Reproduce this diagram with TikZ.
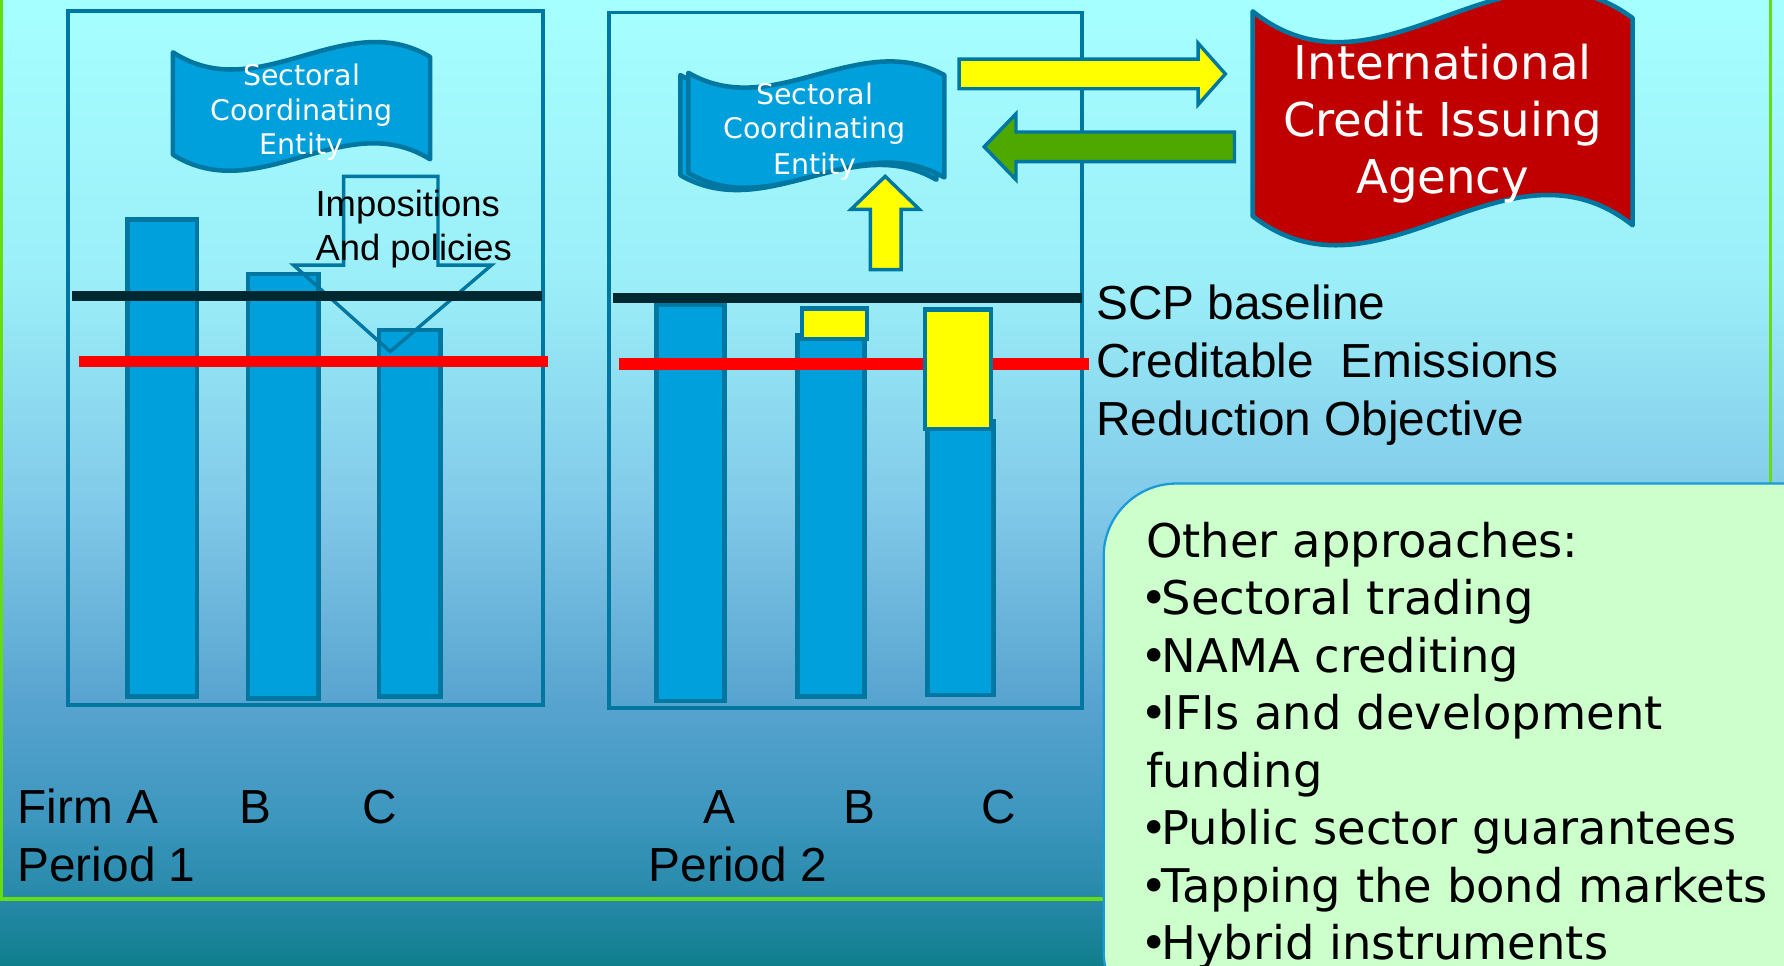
\documentclass[tikz,border=0pt]{standalone}
\usepackage{fontspec}
\newfontfamily\arialf{Liberation Sans}
\newfontfamily\tahf{DejaVu Sans}
\definecolor{edgeblue}{RGB}{0,119,160}
\definecolor{barblue}{RGB}{0,160,220}
\definecolor{flagred}{RGB}{192,0,0}
\definecolor{arrgreen}{RGB}{78,168,0}
\definecolor{arryellow}{RGB}{255,255,0}
\definecolor{framegreen}{RGB}{102,221,17}
\definecolor{boxgreen}{RGB}{204,255,204}
\definecolor{boxedge}{RGB}{26,154,214}
\definecolor{baseblack}{RGB}{0,40,48}
\definecolor{objred}{RGB}{255,0,0}
\definecolor{bga}{RGB}{166,255,255}
\definecolor{bgb}{RGB}{155,238,248}
\definecolor{bgc}{RGB}{128,200,232}
\definecolor{bgd}{RGB}{88,164,208}
\definecolor{bge}{RGB}{60,150,190}
\definecolor{bgf}{RGB}{38,137,168}
\definecolor{bgg}{RGB}{15,126,140}
\newcommand\blt{\kern-0.12em•\kern-0.14em}
\begin{document}
\begin{tikzpicture}[x=0.5pt,y=-0.5pt,
  panel/.style={draw=edgeblue,line width=1.75pt},
  bar/.style={fill=barblue,draw=edgeblue,line width=2pt},
  ybar/.style={fill=arryellow,draw=edgeblue,line width=2pt},
  flagshape/.style={draw=edgeblue,line width=2pt,line join=round},
  blockarrow/.style={draw=edgeblue,line width=1.5pt},
  lbl/.style={inner sep=0pt,anchor=base west,font=\arialf\fontsize{21}{25}\selectfont},
  smlbl/.style={inner sep=0pt,anchor=base west,font=\arialf\fontsize{16}{19}\selectfont},
  flagtxt/.style={inner sep=0pt,anchor=base,text=white,font=\tahf\fontsize{12.5}{15}\selectfont},
  agtxt/.style={inner sep=0pt,anchor=base,text=white,font=\tahf\fontsize{20.5}{25}\selectfont},
  othtxt/.style={inner sep=0pt,anchor=base west,font=\tahf\fontsize{20.4}{25}\selectfont}]
\useasboundingbox (0,0) rectangle (1568,849);
\clip (0,0) rectangle (1568,849);
% background
\shade[top color=bga,bottom color=bgb] (0,0) rectangle (1568,251);
\shade[top color=bgb,bottom color=bgc] (0,250) rectangle (1568,451);
\shade[top color=bgc,bottom color=bgd] (0,450) rectangle (1568,616);
\shade[top color=bgd,bottom color=bge] (0,615) rectangle (1568,721);
\shade[top color=bge,bottom color=bgf] (0,720) rectangle (1568,791);
\shade[top color=bgf,bottom color=bgg] (0,790) rectangle (1568,849);
% green frame
\draw[framegreen,line width=1.5pt] (1,-10) rectangle (1556,790);
% panels
\draw[panel] (60,10) rectangle (477,620);
\draw[panel] (535,11) rectangle (951,622);
% left panel bars
\draw[bar] (112,193) rectangle (173,612);
\draw[bar] (218,241) rectangle (280,614);
\draw[bar] (333,290) rectangle (387,612);
% impositions arrow (outline)
\draw[blockarrow] (302,155) -- (385,155) -- (385,233) -- (432,233) -- (343,309) -- (258,233) -- (302,233) -- cycle;
% left lines
\draw[baseblack,line width=4.5pt] (63,260) -- (476,260);
\draw[objred,line width=5pt] (69,318) -- (482,318);
% right panel bars
\draw[bar] (577,268) rectangle (637,616);
\draw[bar] (701,295) rectangle (760,612);
\draw[bar] (815,370) rectangle (873,611);
\draw[baseblack,line width=4.5pt] (539,262) -- (951,262);
\draw[objred,line width=5pt] (544,320) -- (957,320);
\draw[ybar] (705,271) rectangle (762,298);
\draw[ybar] (813,272) rectangle (871,377);
% left flag
\draw[flagshape,fill=barblue] (152,46) .. controls (227.3,95) and (302.7,5) .. (378,50) -- (378,140) .. controls (302.7,93) and (227.3,183) .. (152,136) -- cycle;
% right flag (back and front)
\draw[flagshape,fill=barblue] (598,66) .. controls (673,109.5) and (748,26.5) .. (823,68) -- (823,158) .. controls (748,114.5) and (673,197.5) .. (598,154) -- cycle;
\draw[flagshape,fill=barblue] (605,64) .. controls (680,107.5) and (755,24.5) .. (830,66) -- (830,156) .. controls (755,112.5) and (680,195.5) .. (605,152) -- cycle;
% red flag
\draw[flagshape,fill=flagred] (1101,10) .. controls (1212.3,99) and (1323.7,-67) .. (1435,16) -- (1435,198) .. controls (1323.7,110) and (1212.3,276) .. (1101,190) -- cycle;
% block arrows
\draw[blockarrow,fill=arryellow] (765,237) -- (765,184) -- (748,184) -- (778,155) -- (808,184) -- (792,184) -- (792,237) -- cycle;
\draw[blockarrow,fill=arryellow] (843,52) -- (1053,52) -- (1053,38) -- (1077,65) -- (1053,92) -- (1053,78) -- (843,78) -- cycle;
\draw[blockarrow,fill=arrgreen] (1085,116) -- (893,116) -- (893,100) -- (865,129) -- (893,158) -- (893,142) -- (1085,142) -- cycle;
% green box
\draw[fill=boxgreen,draw=boxedge,line width=1pt,rounded corners=32pt] (970,425) rectangle (1640,900);
% flag texts
\node[flagtxt] (sce1a) at (265,75) {Sectoral};
\node[flagtxt] (sce1b) at (265,106) {Coordinating};
\node[flagtxt] (sce1c) at (265,136) {Entity};
\node[flagtxt] (sce2a) at (716,92) {Sectoral};
\node[flagtxt] (sce2b) at (716,122) {Coordinating};
\node[flagtxt] (sce2c) at (716,153) {Entity};
\node[agtxt] (ica) at (1268,70) {International};
\node[agtxt] (icb) at (1268,120) {Credit Issuing};
\node[agtxt] (icc) at (1268,170) {Agency};
% impositions text
\node[smlbl] (imp1) at (277,190) {Impositions};
\node[smlbl] (imp2) at (277,229) {And policies};
% legend texts
\node[lbl] (scp) at (963,281) {SCP baseline};
\node[lbl] (cre) at (963,332) {Creditable\ \ Emissions};
\node[lbl] (red) at (963,383) {Reduction Objective};
% axis labels
\node[lbl] (fa) at (15,724) {Firm A};
\node[lbl] (fb) at (210,724) {B};
\node[lbl] (fc) at (318,724) {C};
\node[lbl] (ga) at (618,724) {A};
\node[lbl] (gb) at (741,724) {B};
\node[lbl] (gc) at (862,724) {C};
\node[lbl] (p1) at (15,775) {Period 1};
\node[lbl] (p2) at (570,775) {Period 2};
% other approaches
\foreach \t [count=\i from 0] in {Other approaches:,\blt Sectoral trading,\blt NAMA crediting,\blt IFIs and development,funding,\blt Public sector guarantees,\blt Tapping the bond markets,\blt Hybrid instruments}
  \node[othtxt] (oa\i) at (1007,{490+50.5*\i}) {\t};
\end{tikzpicture}
\end{document}
